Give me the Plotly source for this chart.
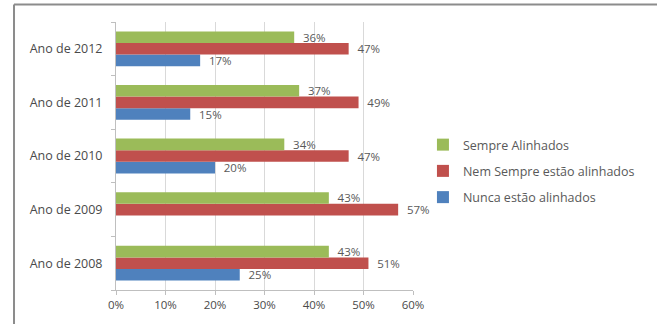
import plotly.graph_objects as go

# Survey results by year (percent of respondents)
anos = ["Ano de 2008", "Ano de 2009", "Ano de 2010", "Ano de 2011", "Ano de 2012"]
nunca = [25, None, 20, 15, 17]
nem_sempre = [51, 57, 47, 49, 47]
sempre = [43, 43, 34, 37, 36]

serie_nomes = ["Nunca estão alinhados", "Nem Sempre estão alinhados", "Sempre Alinhados"]
serie_valores = [nunca, nem_sempre, sempre]
serie_cores = ["#4F81BD", "#C0504D", "#9BBB59"]
serie_rank = [3, 2, 1]

x_ticks = [0, 10, 20, 30, 40, 50, 60]
x_tick_text = ["0%", "10%", "20%", "30%", "40%", "50%", "60%"]

FONT = "Open Sans"
TXT = "#4a4a4a"

fig = go.Figure()
for nome, vals, cor, rank in zip(serie_nomes, serie_valores, serie_cores, serie_rank):
    fig.add_trace(go.Bar(
        y=anos, x=vals, name=nome, orientation="h",
        marker=dict(color=cor, line=dict(width=0)),
        text=[f"\u2002{v}%" if v is not None else "" for v in vals],
        textposition="outside", cliponaxis=False, constraintext="none",
        textfont=dict(family=FONT, size=11.5, color="#595959"),
        legendgroup=nome, legendrank=rank,
    ))

fig.update_layout(
    width=657, height=324,
    margin=dict(l=116, r=244, t=22, b=27),
    paper_bgcolor="white", plot_bgcolor="white",
    barmode="group", bargap=0.35, bargroupgap=0,
    font=dict(family=FONT, size=11, color=TXT),
    showlegend=True,
    legend=dict(
        x=1.0335, y=0.597, xanchor="left", yanchor="top",
        traceorder="grouped", tracegroupgap=7,
        font=dict(family=FONT, size=12.5, color="#595959"),
        itemwidth=30, bgcolor="rgba(0,0,0,0)",
    ),
    xaxis=dict(
        range=[0, 60], tickvals=x_ticks, ticktext=x_tick_text,
        showgrid=True, gridcolor="#d9d9d9", gridwidth=1,
        zeroline=False, showline=True, linecolor="#bfbfbf", linewidth=1,
        ticks="outside", ticklen=4, tickcolor="#bfbfbf",
        tickfont=dict(family=FONT, size=11.5, color=TXT),
    ),
    yaxis=dict(
        categoryorder="array", categoryarray=anos,
        showline=True, linecolor="#bfbfbf", linewidth=1,
        ticks="outside", ticklen=4, tickcolor="#bfbfbf", tickson="boundaries",
        ticklabelstandoff=10,
        tickfont=dict(family=FONT, size=12.5, color=TXT),
        showgrid=False,
    ),
    shapes=[
        dict(type="line", xref="paper", yref="paper",
             x0=-0.3434, x1=1.9, y0=1.0655, y1=1.0655,
             line=dict(color="#8c8c8c", width=2)),
        dict(type="line", xref="paper", yref="paper",
             x0=-0.3434, x1=-0.3434, y0=1.0655, y1=-0.2,
             line=dict(color="#8c8c8c", width=2)),
    ],
)

fig.write_html("out.html")
